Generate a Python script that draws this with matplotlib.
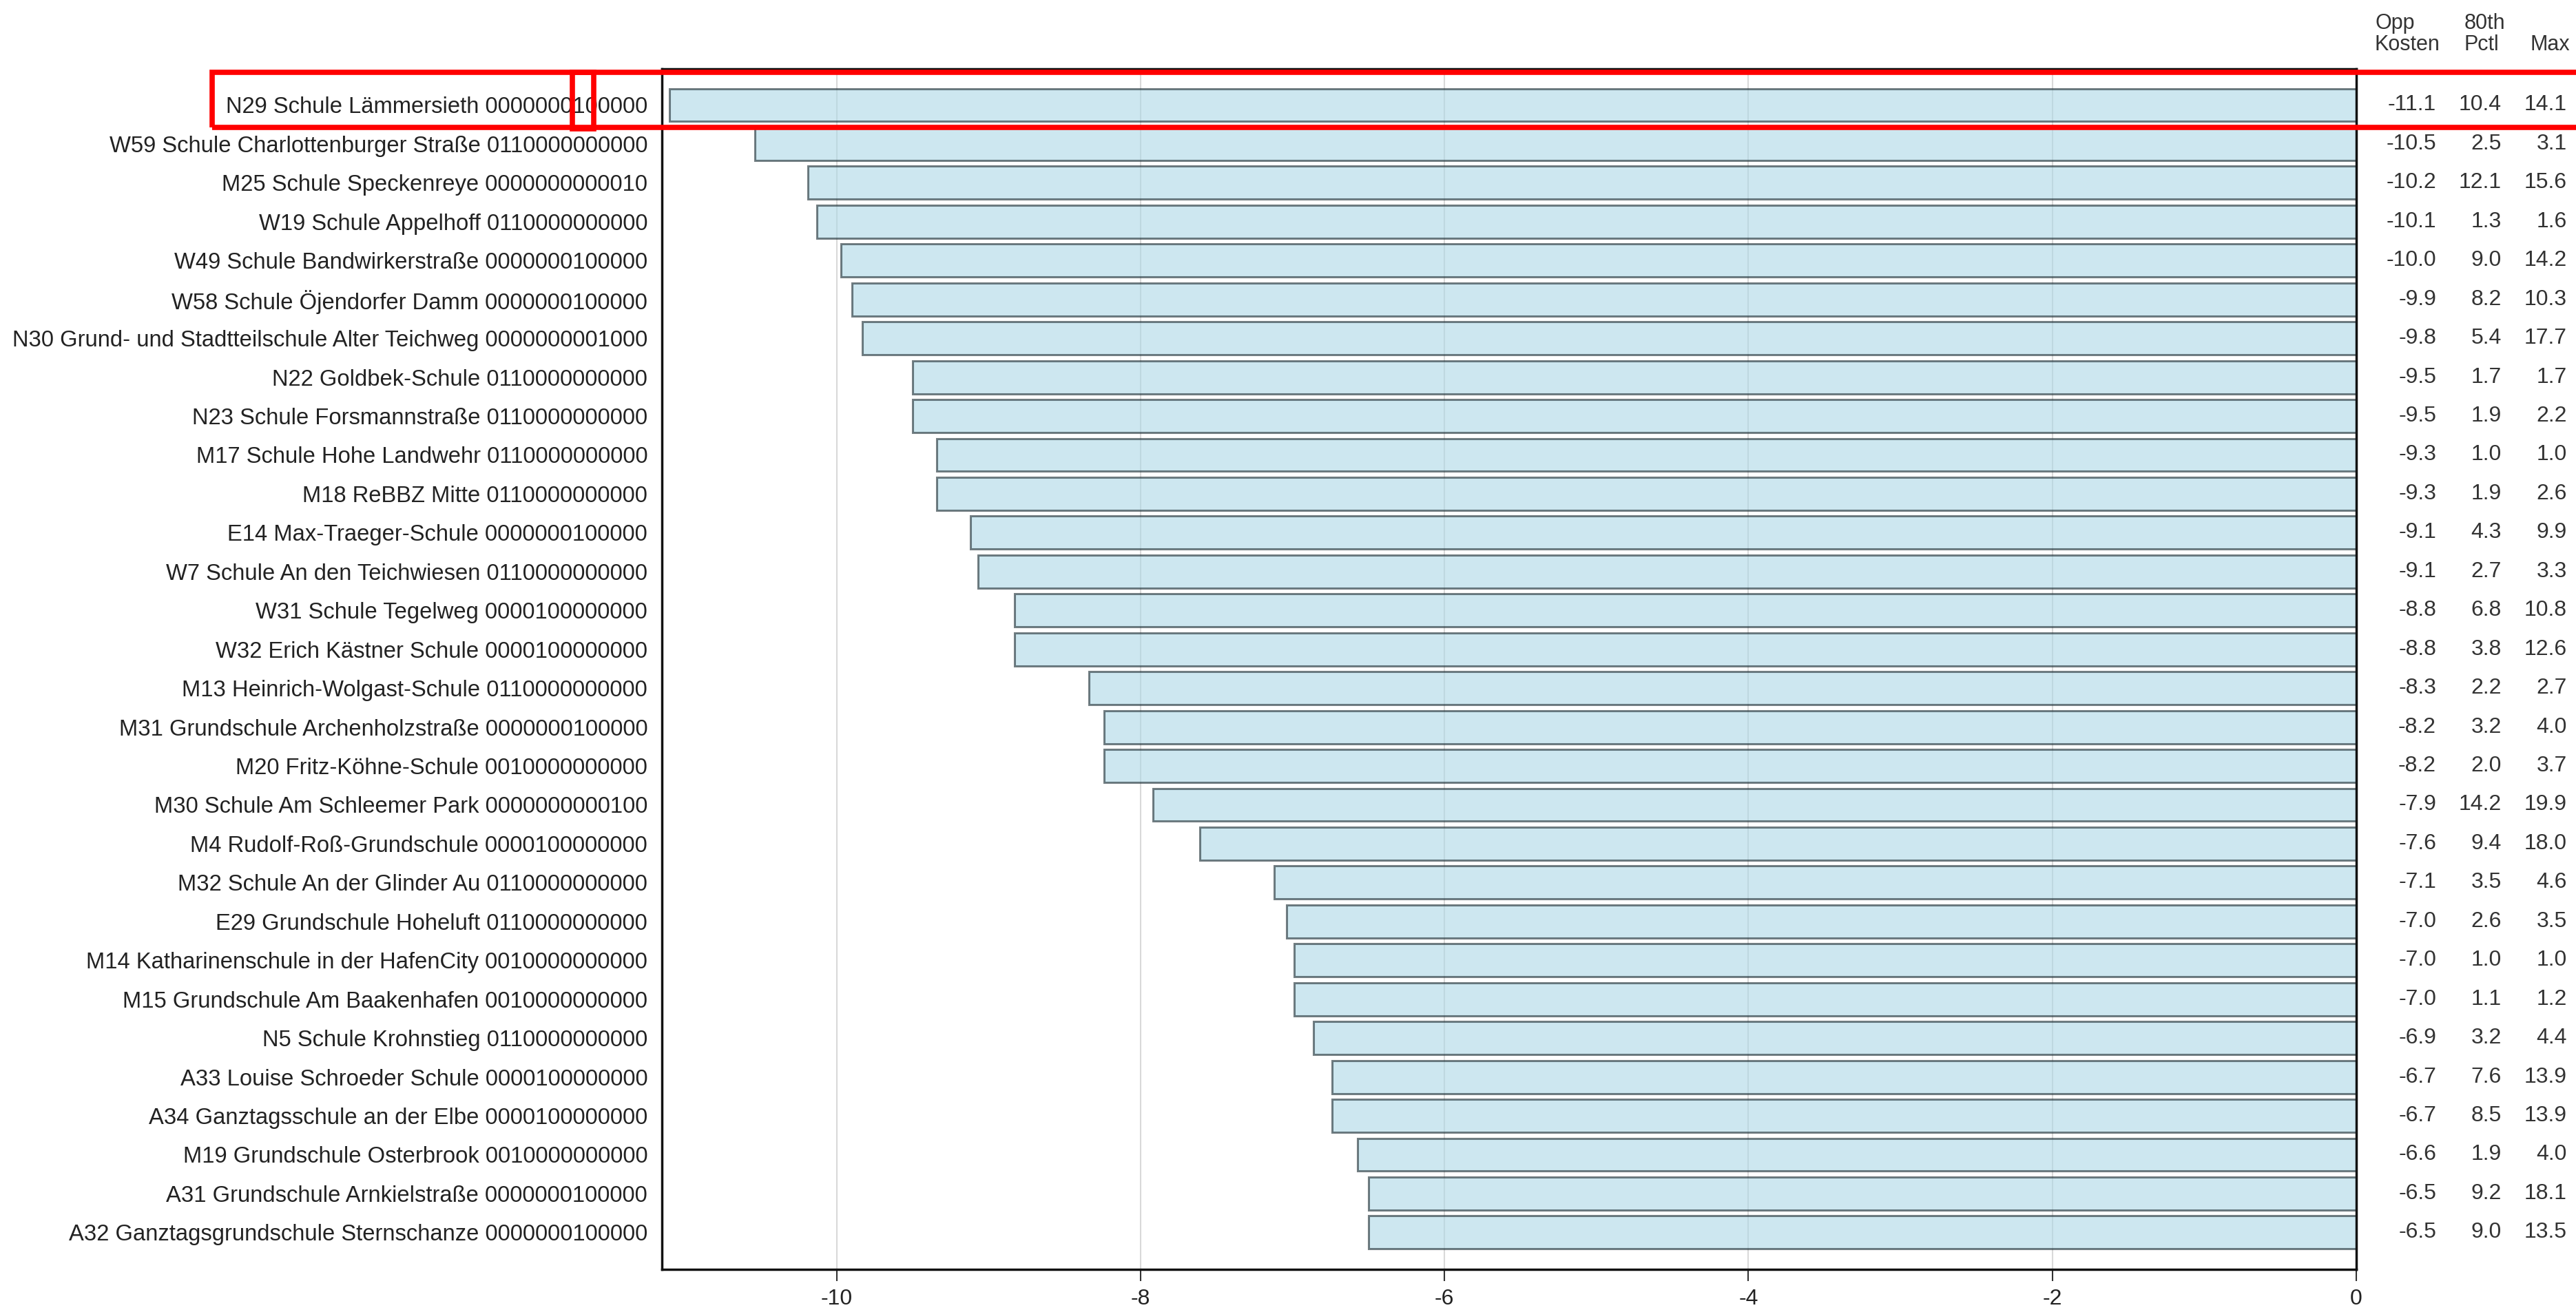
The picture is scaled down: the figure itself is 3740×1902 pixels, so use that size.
import matplotlib
matplotlib.use("Agg")
import matplotlib.pyplot as plt
from matplotlib.patches import Rectangle
import matplotlib.transforms as mtransforms

plt.rcParams['font.family'] = ['Liberation Sans', 'DejaVu Sans']
plt.rcParams['axes.unicode_minus'] = False

# --- data ---
schools = [
    "N29 Schule Lämmersieth 0000000100000",
    "W59 Schule Charlottenburger Straße 0110000000000",
    "M25 Schule Speckenreye 0000000000010",
    "W19 Schule Appelhoff 0110000000000",
    "W49 Schule Bandwirkerstraße 0000000100000",
    "W58 Schule Öjendorfer Damm 0000000100000",
    "N30 Grund- und Stadtteilschule Alter Teichweg 0000000001000",
    "N22 Goldbek-Schule 0110000000000",
    "N23 Schule Forsmannstraße 0110000000000",
    "M17 Schule Hohe Landwehr 0110000000000",
    "M18 ReBBZ Mitte 0110000000000",
    "E14 Max-Traeger-Schule 0000000100000",
    "W7 Schule An den Teichwiesen 0110000000000",
    "W31 Schule Tegelweg 0000100000000",
    "W32 Erich Kästner Schule 0000100000000",
    "M13 Heinrich-Wolgast-Schule 0110000000000",
    "M31 Grundschule Archenholzstraße 0000000100000",
    "M20 Fritz-Köhne-Schule 0010000000000",
    "M30 Schule Am Schleemer Park 0000000000100",
    "M4 Rudolf-Roß-Grundschule 0000100000000",
    "M32 Schule An der Glinder Au 0110000000000",
    "E29 Grundschule Hoheluft 0110000000000",
    "M14 Katharinenschule in der HafenCity 0010000000000",
    "M15 Grundschule Am Baakenhafen 0010000000000",
    "N5 Schule Krohnstieg 0110000000000",
    "A33 Louise Schroeder Schule 0000100000000",
    "A34 Ganztagsschule an der Elbe 0000100000000",
    "M19 Grundschule Osterbrook 0010000000000",
    "A31 Grundschule Arnkielstraße 0000000100000",
    "A32 Ganztagsgrundschule Sternschanze 0000000100000",
]
opp_kosten = [-11.10, -10.54, -10.19, -10.13, -9.97, -9.90, -9.83, -9.50, -9.50, -9.34,
              -9.34, -9.12, -9.07, -8.83, -8.83, -8.34, -8.24, -8.24, -7.92, -7.61,
              -7.12, -7.04, -6.99, -6.99, -6.86, -6.74, -6.74, -6.57, -6.50, -6.50]
pctl80 = [10.4, 2.5, 12.1, 1.3, 9.0, 8.2, 5.4, 1.7, 1.9, 1.0,
          1.9, 4.3, 2.7, 6.8, 3.8, 2.2, 3.2, 2.0, 14.2, 9.4,
          3.5, 2.6, 1.0, 1.1, 3.2, 7.6, 8.5, 1.9, 9.2, 9.0]
max_vals = [14.1, 3.1, 15.6, 1.6, 14.2, 10.3, 17.7, 1.7, 2.2, 1.0,
            2.6, 9.9, 3.3, 10.8, 12.6, 2.7, 4.0, 3.7, 19.9, 18.0,
            4.6, 3.5, 1.0, 1.2, 4.4, 13.9, 13.9, 4.0, 18.1, 13.5]
headers = ["Opp\nKosten", "80th\nPctl", "Max"]

W, H = 3740, 1902
fig = plt.figure(figsize=(W / 100, H / 100), dpi=100)
ax = fig.add_axes([961 / W, (H - 1843) / H, (3421 - 961) / W, (1843 - 100) / H])

y = list(range(len(schools)))
ax.barh(y, opp_kosten, height=0.85, color='lightblue', alpha=0.6,
        edgecolor='#1a2a30', linewidth=2.2, zorder=2)
ax.set_yticks(y)
ax.set_yticklabels(schools, fontsize=23.6, color='#222222')
ax.set_ylim(29.95, -0.93)
ax.set_xlim(-11.15, 0)
ax.set_xticks([-10, -8, -6, -4, -2, 0])
ax.tick_params(axis='y', length=0, pad=15)
ax.tick_params(axis='x', length=12, width=1.5, color='#333333', labelsize=23,
               labelcolor='#222222', pad=8)
ax.grid(axis='x', color='#d9d9d9', linewidth=1.5, zorder=1)
ax.set_axisbelow(True)
for s in ax.spines.values():
    s.set_linewidth(2.5)
    s.set_color('#111111')

# table on the right
trans = mtransforms.blended_transform_factory(fig.transFigure, ax.transData)
col_right = [3537 / W, 3632 / W, 3727 / W]
col_left = [3448 / W, 3578 / W, 3673 / W]
for i in y:
    for col, vals in zip(col_right, [opp_kosten, pctl80, max_vals]):
        ax.text(col, i, f"{vals[i]:.1f}", transform=trans, ha='right', va='center',
                fontsize=23, color='#333333', clip_on=False)
for xl, h in zip(col_left, headers):
    fig.text(xl, 1 - 80 / H, h, ha='left', va='bottom', fontsize=22,
             color='#333333', linespacing=1.05, multialignment='left')

# red highlight boxes
fig.patches.append(Rectangle((308 / W, 1 - 185 / H), (3760 - 308) / W, 80 / H,
                             transform=fig.transFigure, fill=False,
                             edgecolor='red', linewidth=5.5, zorder=10))
fig.patches.append(Rectangle((831 / W, 1 - 187 / H), 31 / W, 82 / H,
                             transform=fig.transFigure, fill=False,
                             edgecolor='red', linewidth=5.5, zorder=10))

fig.savefig("out.png", dpi=100)
